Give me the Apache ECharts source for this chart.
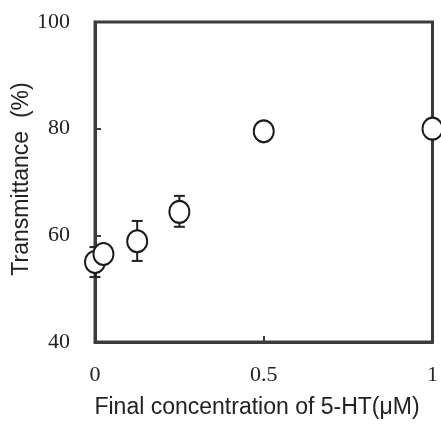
<!DOCTYPE html>
<html>
<head>
<meta charset="utf-8">
<script src="https://cdn.jsdelivr.net/npm/echarts@6/dist/echarts.min.js"></script>
<style>html,body{margin:0;padding:0;background:#fff;}#c{width:441px;height:424px;}</style>
</head>
<body>
<div id="c"></div>
<script>
var concentrations = [0, 0.025, 0.125, 0.25, 0.5, 1];
var transmittance = [55.0, 56.5, 58.9, 64.4, 79.5, 80.0];
var errLow = [52.2, 56.5, 55.2, 61.6, 79.5, 80.0];
var errHigh = [57.8, 56.5, 62.7, 67.4, 79.5, 80.0];
var xTicks = [0, 0.5, 1];
var yTicks = [40, 60, 80, 100];
var xName = 'Final concentration of 5-HT(\u03bcM)';
var yName = 'Transmittance  (%)';

var chart = echarts.init(document.getElementById('c'), null, {renderer: 'canvas'});
var pts = concentrations.map(function (x, i) { return [x, transmittance[i]]; });
var errs = concentrations.map(function (x, i) { return [x, errLow[i], errHigh[i]]; });
var axisCol = '#3c3c3c';
chart.setOption({
  animation: false,
  backgroundColor: '#fff',
  grid: {left: 95, right: 5, top: 22, bottom: 82, show: true, borderColor: axisCol, borderWidth: 3, backgroundColor: 'transparent'},
  graphic: [
    {
      type: 'text', rotation: Math.PI / 2, x: 22, y: 179,
      style: {text: yName, font: '23px "Liberation Sans"', fill: '#222', align: 'center', verticalAlign: 'middle'}
    },
    {
      type: 'text', x: 257, y: 408,
      style: {text: xName, font: '23px "Liberation Sans"', fill: '#222', align: 'center', verticalAlign: 'middle'}
    }
  ],
  xAxis: {
    type: 'value', min: 0, max: 1, interval: 0.5,
    axisLine: {show: true, lineStyle: {color: axisCol, width: 3}},
    axisTick: {show: true, inside: true, length: 6, lineStyle: {color: axisCol, width: 2}},
    axisLabel: {margin: 22, fontFamily: 'Liberation Serif', fontSize: 22, color: '#222',
      formatter: function (v) { return xTicks.indexOf(v) >= 0 ? String(v) : ''; }},
    splitLine: {show: false}
  },
  yAxis: {
    type: 'value', min: 40, max: 100, interval: 20,
    axisLine: {show: true, lineStyle: {color: axisCol, width: 3}},
    axisTick: {show: true, inside: true, length: 6, lineStyle: {color: axisCol, width: 2}},
    axisLabel: {margin: 25, fontFamily: 'Liberation Serif', fontSize: 22, color: '#222',
      formatter: function (v) { return yTicks.indexOf(v) >= 0 ? String(v) : ''; }},
    splitLine: {show: false}
  },
  series: [
    {
      type: 'custom', z: 2, clip: false,
      data: errs,
      renderItem: function (params, api) {
        var x = api.value(0), lo = api.value(1), hi = api.value(2);
        if (hi - lo < 0.01) return null;
        var pLo = api.coord([x, lo]), pHi = api.coord([x, hi]);
        var w = 5.5;
        var st = {stroke: '#222', lineWidth: 2};
        return {type: 'group', children: [
          {type: 'line', shape: {x1: pLo[0], y1: pLo[1], x2: pHi[0], y2: pHi[1]}, style: st},
          {type: 'line', shape: {x1: pLo[0] - w, y1: pLo[1], x2: pLo[0] + w, y2: pLo[1]}, style: st},
          {type: 'line', shape: {x1: pHi[0] - w, y1: pHi[1], x2: pHi[0] + w, y2: pHi[1]}, style: st}
        ]};
      }
    },
    {
      type: 'scatter', z: 3, clip: false,
      data: pts,
      symbol: 'circle', symbolSize: [20, 22],
      itemStyle: {color: '#fff', borderColor: '#1a1a1a', borderWidth: 2, opacity: 1}
    }
  ]
});
</script>
</body>
</html>
